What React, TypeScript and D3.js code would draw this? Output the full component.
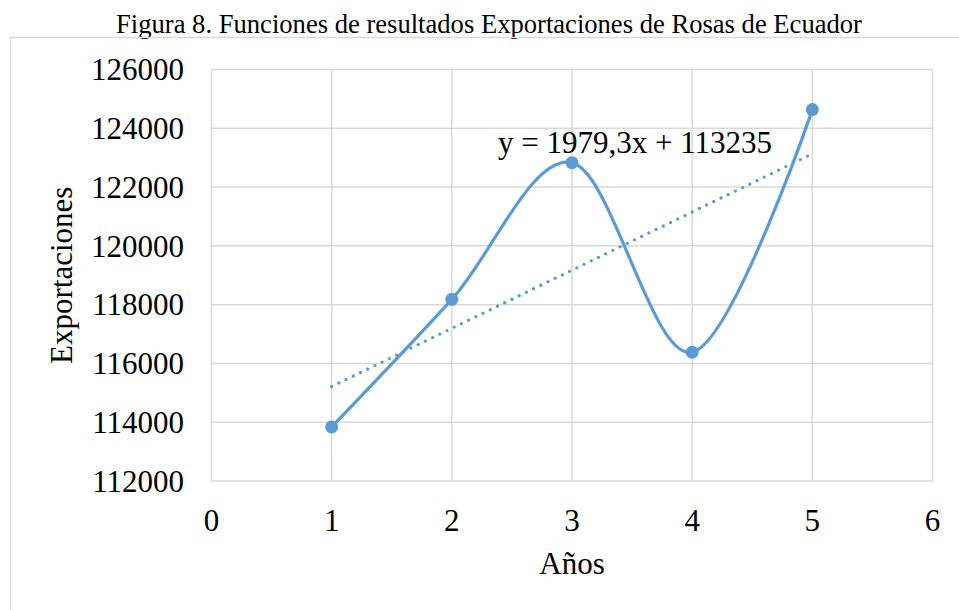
import React from "react";
import * as d3 from "d3";

const years = [1, 2, 3, 4, 5];
const exports = [113840, 118180, 122830, 116380, 124635];
const xTicks = [0, 1, 2, 3, 4, 5, 6];
const yTicks = [112000, 114000, 116000, 118000, 120000, 122000, 124000, 126000];
const title = "Figura 8. Funciones de resultados Exportaciones de Rosas de Ecuador";
const equation = "y = 1979,3x + 113235";

const W = 959;
const H = 610;
const plot = { left: 211.5, right: 932.5, top: 69.5, bottom: 481 };
const blue = "#5B9BD5";
const grid = "#d9d9d9";
const font = "'Liberation Serif', 'Times New Roman', serif";

export default function App() {
  const x = d3.scaleLinear().domain([0, 6]).range([plot.left, plot.right]);
  const y = d3.scaleLinear().domain([112000, 126000]).range([plot.bottom, plot.top]);

  const pts: [number, number][] = years.map((v, i) => [v, exports[i]]);
  const line = d3
    .line<[number, number]>()
    .x((d) => x(d[0]))
    .y((d) => y(d[1]))
    .curve(d3.curveCardinal.tension(0));

  const n = years.length;
  const mx = d3.mean(years)!;
  const my = d3.mean(exports)!;
  const slope =
    d3.sum(years.map((v, i) => (v - mx) * (exports[i] - my))) /
    d3.sum(years.map((v) => (v - mx) * (v - mx)));
  const intercept = my - slope * mx;
  const x0 = years[0];
  const x1 = years[n - 1];

  return (
    <svg
      width={W}
      height={H}
      style={{ position: "absolute", left: 0, top: 0, background: "#fff" }}
      fontFamily={font}
    >
      <rect x={0} y={0} width={W} height={H} fill="#fff" />
      <text x={489} y={32.5} textAnchor="middle" fontSize={26.6} fill="#000">
        {title}
      </text>
      <rect x={10.5} y={37.5} width={980} height={620} fill="none" stroke={grid} strokeWidth={1.5} />

      {yTicks.map((t) => (
        <line key={"gy" + t} x1={plot.left} x2={plot.right} y1={y(t)} y2={y(t)} stroke={grid} strokeWidth={1.5} />
      ))}
      {xTicks.map((t) => (
        <line key={"gx" + t} x1={x(t)} x2={x(t)} y1={plot.top} y2={plot.bottom} stroke={grid} strokeWidth={1.5} />
      ))}

      {yTicks.map((t) => (
        <text key={"ty" + t} x={184} y={y(t)} dy="0.35em" textAnchor="end" fontSize={31} fill="#000">
          {t}
        </text>
      ))}
      {xTicks.map((t) => (
        <text key={"tx" + t} x={x(t)} y={531} textAnchor="middle" fontSize={31} fill="#000">
          {t}
        </text>
      ))}

      <text transform={`translate(72,${(plot.top + plot.bottom) / 2}) rotate(-90)`} textAnchor="middle" fontSize={31} fill="#000">
        Exportaciones
      </text>
      <text x={(plot.left + plot.right) / 2} y={574} textAnchor="middle" fontSize={31} fill="#000">
        Años
      </text>

      <path d={line(pts) || ""} fill="none" stroke={blue} strokeWidth={3.2} strokeLinejoin="round" />
      <line
        x1={x(x0)}
        y1={y(intercept + slope * x0)}
        x2={x(x1)}
        y2={y(intercept + slope * x1)}
        stroke={blue}
        strokeWidth={3.2}
        strokeDasharray="0.01 8"
        strokeLinecap="round"
      />
      {pts.map((d, i) => (
        <circle key={"p" + i} cx={x(d[0])} cy={y(d[1])} r={6.5} fill={blue} />
      ))}

      <text x={498} y={153} fontSize={31} fill="#000">
        {equation}
      </text>
    </svg>
  );
}
